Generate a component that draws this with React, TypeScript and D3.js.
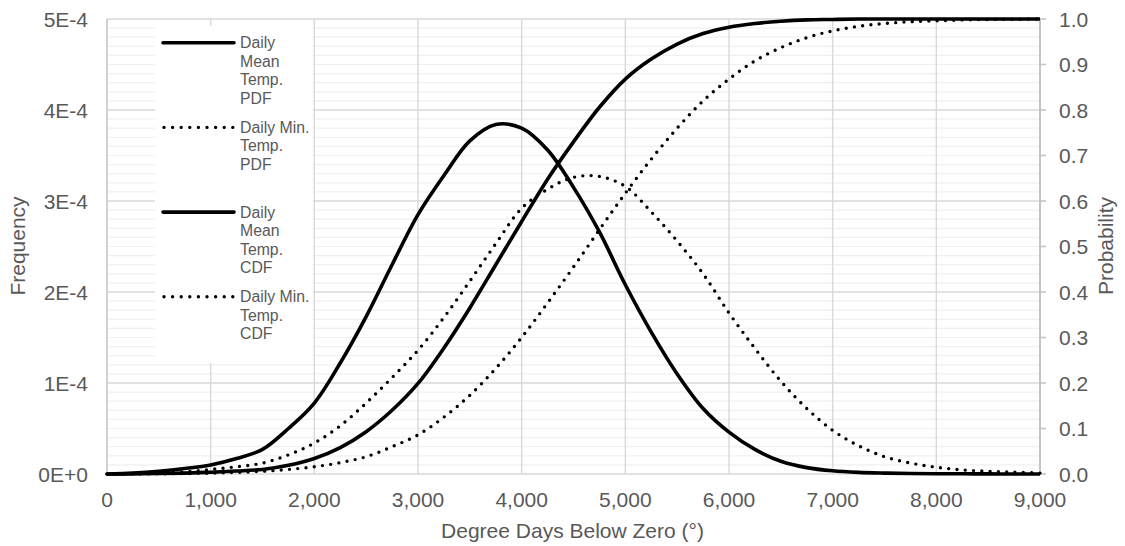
import { useEffect, useRef } from 'react'
import * as d3 from 'd3'

// degree days below zero, shared by all four series
const degreeDays = [
  0, 250, 500, 750, 1000, 1250, 1500, 1750, 2000, 2250, 2500, 2750, 3000, 3250, 3500, 3750, 4000, 4250, 4500,
  4750, 5000, 5250, 5500, 5750, 6000, 6250, 6500, 6750, 7000, 7250, 7500, 7750, 8000, 8250, 8500, 8750, 9000,
]

// frequencies in units of 1E-4
const meanPdf = [
  0, 0.01, 0.03, 0.06, 0.1, 0.17, 0.27, 0.5, 0.78, 1.22, 1.73, 2.3, 2.85, 3.28, 3.66, 3.84, 3.8, 3.56, 3.15, 2.66,
  2.08, 1.56, 1.1, 0.72, 0.46, 0.27, 0.14, 0.07, 0.035, 0.018, 0.01, 0.005, 0.003, 0.002, 0.001, 0, 0,
]
const minPdf = [
  0, 0.005, 0.01, 0.025, 0.05, 0.08, 0.12, 0.21, 0.34, 0.53, 0.78, 1.06, 1.36, 1.72, 2.12, 2.53, 2.92, 3.13, 3.26,
  3.27, 3.16, 2.88, 2.56, 2.2, 1.77, 1.38, 1.02, 0.72, 0.48, 0.31, 0.19, 0.12, 0.075, 0.045, 0.03, 0.02, 0.01,
]

// cumulative probabilities
const meanCdf = [
  0, 0.0003, 0.001, 0.002, 0.004, 0.0065, 0.01, 0.019, 0.034, 0.058, 0.093, 0.14, 0.199, 0.277, 0.365, 0.46, 0.555,
  0.648, 0.73, 0.806, 0.868, 0.912, 0.945, 0.968, 0.982, 0.99, 0.995, 0.998, 0.999, 1, 1, 1, 1, 1, 1, 1, 1,
]
const minCdf = [
  0, 0.0002, 0.0005, 0.001, 0.002, 0.0036, 0.006, 0.01, 0.016, 0.025, 0.038, 0.06, 0.086, 0.125, 0.173, 0.232, 0.3,
  0.376, 0.455, 0.537, 0.617, 0.692, 0.76, 0.82, 0.868, 0.908, 0.937, 0.959, 0.974, 0.984, 0.99, 0.994, 0.996,
  0.998, 0.999, 0.9995, 1,
]

const dayTicks = [0, 1000, 2000, 3000, 4000, 5000, 6000, 7000, 8000, 9000]
const freqTicks = [0, 1, 2, 3, 4, 5]
const freqTickLabels = ['0E+0', '1E-4', '2E-4', '3E-4', '4E-4', '5E-4']
const probTicks = [0, 0.1, 0.2, 0.3, 0.4, 0.5, 0.6, 0.7, 0.8, 0.9, 1]

const legendLabels = [
  ['Daily', 'Mean', 'Temp.', 'PDF'],
  ['Daily Min.', 'Temp.', 'PDF'],
  ['Daily', 'Mean', 'Temp.', 'CDF'],
  ['Daily Min.', 'Temp.', 'CDF'],
]

const FONT = "'Liberation Sans', Arial, sans-serif"
const TEXT = '#595959'

export default function App() {
  const svgRef = useRef<SVGSVGElement>(null)

  useEffect(() => {
    if (!svgRef.current) return
    const width = 1125
    const height = 546
    const margin = { top: 19, right: 85, bottom: 72, left: 107 }

    const svg = d3.select(svgRef.current)
    svg.selectAll('*').remove()

    const x = d3.scaleLinear().domain([0, 9000]).range([margin.left, width - margin.right])
    const yFreq = d3.scaleLinear().domain([0, 5]).range([height - margin.bottom, margin.top])
    const yProb = d3.scaleLinear().domain([0, 1]).range([height - margin.bottom, margin.top])

    // minor horizontal grid
    const minor = d3.range(0, 50).map((d) => d / 10).filter((d) => d % 1 !== 0)
    svg
      .append('g')
      .selectAll('line')
      .data(minor)
      .join('line')
      .attr('x1', margin.left)
      .attr('x2', width - margin.right)
      .attr('y1', (d) => yFreq(d))
      .attr('y2', (d) => yFreq(d))
      .attr('stroke', '#f0f0f0')
      .attr('stroke-width', 1.2)

    // major grid
    svg
      .append('g')
      .selectAll('line')
      .data(freqTicks)
      .join('line')
      .attr('x1', margin.left)
      .attr('x2', width - margin.right)
      .attr('y1', (d) => yFreq(d))
      .attr('y2', (d) => yFreq(d))
      .attr('stroke', '#d9d9d9')
      .attr('stroke-width', 1.4)

    svg
      .append('g')
      .selectAll('line')
      .data(dayTicks)
      .join('line')
      .attr('x1', (d) => x(d))
      .attr('x2', (d) => x(d))
      .attr('y1', margin.top)
      .attr('y2', height - margin.bottom)
      .attr('stroke', '#d9d9d9')
      .attr('stroke-width', 1.4)

    // axis lines
    svg
      .append('line')
      .attr('x1', margin.left)
      .attr('x2', margin.left)
      .attr('y1', margin.top)
      .attr('y2', height - margin.bottom)
      .attr('stroke', '#cccccc')
      .attr('stroke-width', 1.6)
    svg
      .append('line')
      .attr('x1', width - margin.right)
      .attr('x2', width - margin.right)
      .attr('y1', margin.top)
      .attr('y2', height - margin.bottom)
      .attr('stroke', '#c4c4c4')
      .attr('stroke-width', 2)
    svg
      .append('g')
      .selectAll('line')
      .data(probTicks)
      .join('line')
      .attr('x1', width - margin.right)
      .attr('x2', width - margin.right + 6)
      .attr('y1', (d) => yProb(d))
      .attr('y2', (d) => yProb(d))
      .attr('stroke', '#c4c4c4')
      .attr('stroke-width', 1.6)

    // tick labels
    const label = (g: d3.Selection<SVGGElement, unknown, null, undefined>) =>
      g.style('font-family', FONT).style('font-size', '21px').attr('fill', TEXT)

    svg
      .append('g')
      .call(label)
      .selectAll('text')
      .data(freqTicks)
      .join('text')
      .attr('x', 88)
      .attr('y', (d) => yFreq(d) + 7.6)
      .attr('text-anchor', 'end')
      .text((d, i) => freqTickLabels[i])

    svg
      .append('g')
      .call(label)
      .selectAll('text')
      .data(probTicks)
      .join('text')
      .attr('x', 1059)
      .attr('y', (d) => yProb(d) + 7.6)
      .text((d) => d3.format('.1f')(d))

    svg
      .append('g')
      .call(label)
      .selectAll('text')
      .data(dayTicks)
      .join('text')
      .attr('x', (d) => x(d))
      .attr('y', 506.7)
      .attr('text-anchor', 'middle')
      .text((d) => d3.format(',')(d))

    // axis titles
    const titles = svg.append('g').call(label)
    titles.append('text').attr('x', 572.5).attr('y', 538.3).attr('text-anchor', 'middle').text('Degree Days Below Zero (°)')
    titles
      .append('text')
      .attr('transform', 'translate(25,246) rotate(-90)')
      .attr('text-anchor', 'middle')
      .text('Frequency')
    titles
      .append('text')
      .attr('transform', 'translate(1113,246) rotate(-90)')
      .attr('text-anchor', 'middle')
      .text('Probability')

    // series
    const series = [
      { values: meanPdf, y: yFreq, dotted: false },
      { values: minPdf, y: yFreq, dotted: true },
      { values: meanCdf, y: yProb, dotted: false },
      { values: minCdf, y: yProb, dotted: true },
    ]

    series.forEach((s) => {
      const line = d3
        .line<number>()
        .x((d, i) => x(degreeDays[i]))
        .y((d) => s.y(d))
        .curve(d3.curveCatmullRom.alpha(0.5))
      const path = svg
        .append('path')
        .datum(s.values)
        .attr('fill', 'none')
        .attr('stroke', '#000')
        .attr('d', line)
      if (s.dotted) {
        path.attr('stroke-width', 3.4).attr('stroke-linecap', 'round').attr('stroke-dasharray', '0 8.3')
      } else {
        path.attr('stroke-width', 3.6).attr('stroke-linejoin', 'round')
      }
    })

    // legend
    const legend = svg.append('g')
    legend.append('rect').attr('x', 155).attr('y', 26).attr('width', 158).attr('height', 337).attr('fill', '#fff')

    legendLabels.forEach((lines, i) => {
      const top = 42.7 + i * 84.7
      const dotted = i % 2 === 1
      const sample = legend
        .append('line')
        .attr('x1', dotted ? 164 : 163)
        .attr('x2', 234)
        .attr('y1', top)
        .attr('y2', top)
        .attr('stroke', '#000')
      if (dotted) {
        sample.attr('stroke-width', 3.4).attr('stroke-linecap', 'round').attr('stroke-dasharray', '0 8.6')
      } else {
        sample.attr('stroke-width', 3.6).attr('stroke-linecap', 'round')
      }
      const text = legend
        .append('text')
        .attr('x', 240)
        .attr('y', top + 5.6)
        .style('font-family', FONT)
        .style('font-size', '15.8px')
        .attr('fill', TEXT)
      lines.forEach((t, j) => {
        text
          .append('tspan')
          .attr('x', 240)
          .attr('dy', j === 0 ? 0 : 18.4)
          .text(t)
      })
    })
  }, [])

  return (
    <div style={{ position: 'absolute', left: 0, top: 0, width: 1125, height: 546, background: '#fff' }}>
      <svg ref={svgRef} width={1125} height={546} />
    </div>
  )
}
